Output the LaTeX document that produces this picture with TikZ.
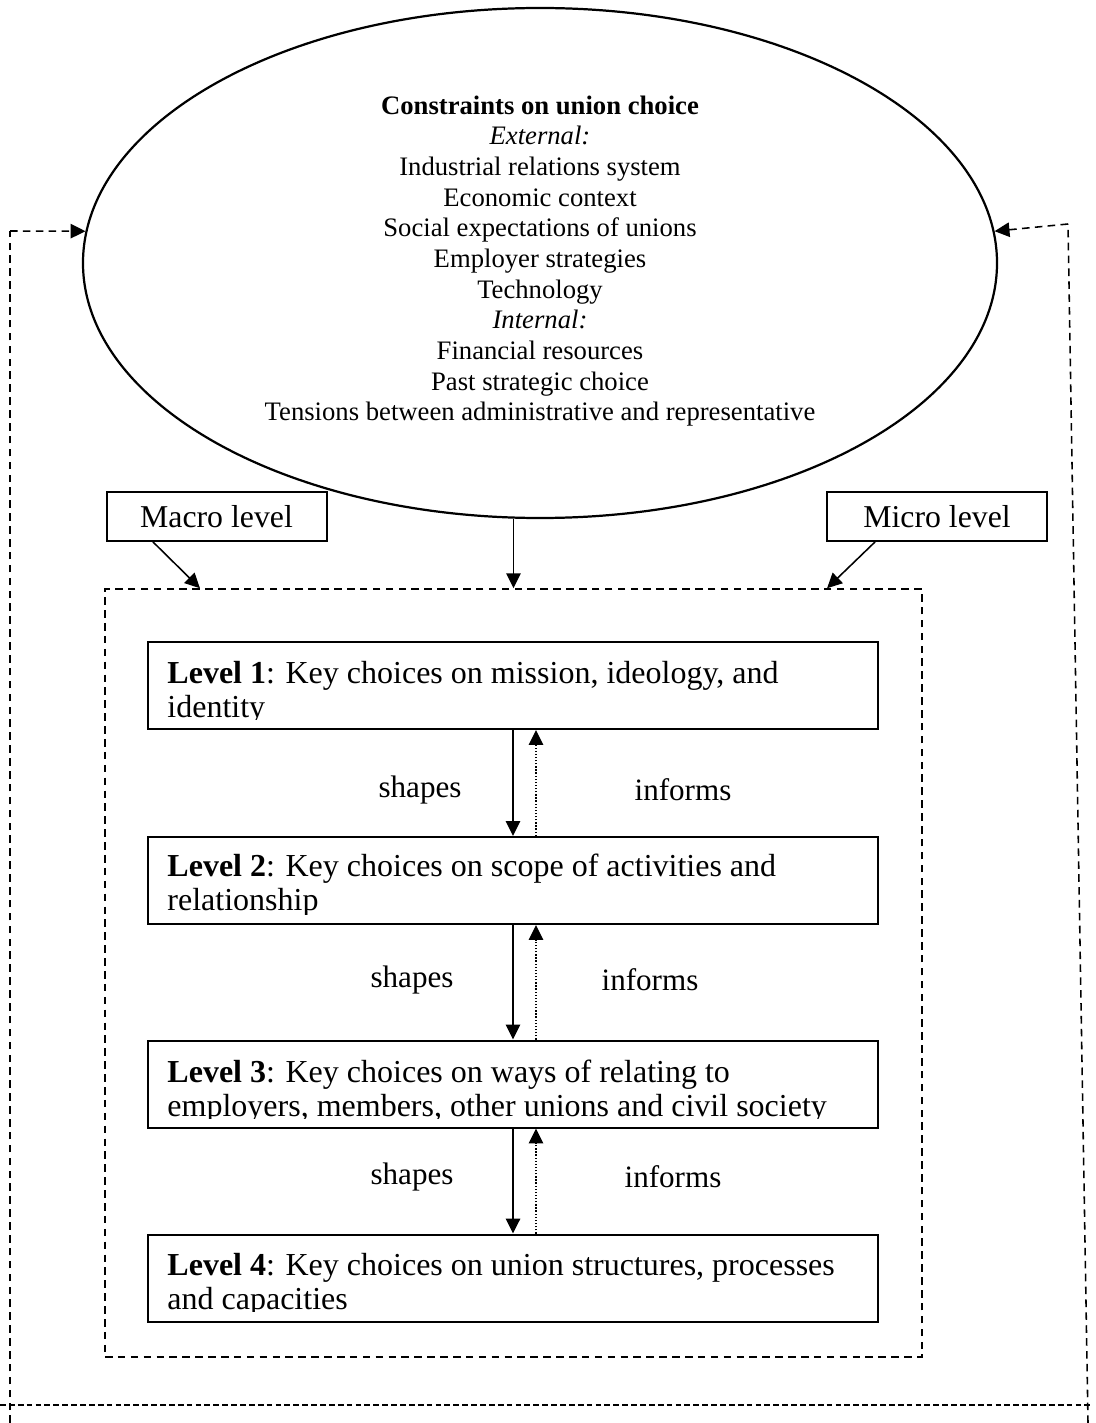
\documentclass[tikz,border=0pt]{standalone}
\usepackage{fontspec}
\setmainfont{Liberation Serif}
\usetikzlibrary{arrows.meta,shapes.geometric}
\begin{document}
\begin{tikzpicture}[x=0.45pt,y=-0.45pt,
  tip/.style={-{Triangle[length=6.7pt,width=6.5pt]}},
  solidarrow/.style={tip,line width=0.7pt},
  dotarrow/.style={tip,line width=0.6pt,dash pattern=on 0.6pt off 0.8pt},
  outerdash/.style={line width=0.7pt,dash pattern=on 3.4pt off 2.4pt},
  bottomdash/.style={line width=0.8pt,dash pattern=on 2.6pt off 1.4pt},
  framedash/.style={draw,line width=0.7pt,dash pattern=on 3.4pt off 2.4pt},
  levelbox/.style={draw,line width=0.9pt,rectangle,inner sep=0pt,minimum width=328.5pt,minimum height=39.15pt},
  labelbox/.style={draw,fill=white,line width=0.9pt,rectangle,inner sep=0pt,minimum width=99pt,minimum height=22pt},
  boxtext/.style={anchor=base west,inner sep=0pt,font=\fontsize{14.4}{15.3}\selectfont},
  arrowlabel/.style={inner sep=0pt,font=\fontsize{14}{16.7}\selectfont},
  ]
\useasboundingbox (0,0) rectangle (1095,1423);

% ellipse of constraints
\node[draw,ellipse,line width=1pt,inner sep=0pt,minimum width=411.3pt,minimum height=229.5pt] (constraints) at (540,263) {};
\node[align=center,inner sep=0pt,font=\fontsize{12}{13.8}\selectfont] (constraintsText) at (540,261)
 {\textbf{Constraints on union choice}\\
  \textit{External:}\\
  Industrial relations system\\
  Economic context\\
  Social expectations of unions\\
  Employer strategies\\
  Technology\\
  \textit{Internal:}\\
  Financial resources\\
  Past strategic choice\\
  Tensions between administrative and representative};

% macro / micro boxes
\node[labelbox] (macro) at (217,516.5) {};
\node[labelbox] (micro) at (937,516.5) {};
\node[inner sep=0pt,font=\fontsize{14.3}{17}\selectfont] (macroText) at (216.5,517) {Macro level};
\node[inner sep=0pt,font=\fontsize{14.3}{17}\selectfont] (microText) at (937,517) {Micro level};

% dashed frame
\node[framedash,inner sep=0pt,minimum width=367.65pt,minimum height=345.6pt] (frame) at (513.5,973) {};

% level boxes
\node[levelbox] (L1) at (513,685.5) {};
\node[levelbox] (L2) at (513,880.5) {};
\node[levelbox] (L3) at (513,1084) {};
\node[levelbox] (L4) at (513,1278) {};

\begin{scope}
\clip (148,642) rectangle (878,719);
\node[boxtext] (L1a) at (167,683) {\textbf{Level 1}: Key choices on mission, ideology, and};
\node[boxtext] (L1b) at (167,717) {identity};
\end{scope}
\begin{scope}
\clip (148,836) rectangle (878,914);
\node[boxtext] (L2a) at (167,876) {\textbf{Level 2}: Key choices on scope of activities and};
\node[boxtext] (L2b) at (167,910) {relationship};
\end{scope}
\begin{scope}
\clip (148,1041) rectangle (878,1118);
\node[boxtext] (L3a) at (167,1082) {\textbf{Level 3}: Key choices on ways of relating to};
\node[boxtext] (L3b) at (167,1116) {employers, members, other unions and civil society};
\end{scope}
\begin{scope}
\clip (148,1234) rectangle (878,1311);
\node[boxtext] (L4a) at (167,1275) {\textbf{Level 4}: Key choices on union structures, processes};
\node[boxtext] (L4b) at (167,1309) {and capacities};
\end{scope}

% shapes / informs arrows
\draw[solidarrow] (L1.south) -- (L2.north);
\draw[dotarrow] ([xshift=10.35pt]L2.north) -- ([xshift=10.35pt]L1.south);
\draw[solidarrow] (L2.south) -- (L3.north);
\draw[dotarrow] ([xshift=10.35pt]L3.north) -- ([xshift=10.35pt]L2.south);
\draw[solidarrow] (L3.south) -- (L4.north);
\draw[dotarrow] ([xshift=10.35pt]L4.north) -- ([xshift=10.35pt]L3.south);

\node[arrowlabel] (s1) at (420,790) {shapes};
\node[arrowlabel] (i1) at (683,790) {informs};
\node[arrowlabel] (s2) at (412,980) {shapes};
\node[arrowlabel] (i2) at (650,980) {informs};
\node[arrowlabel] (s3) at (412,1177) {shapes};
\node[arrowlabel] (i3) at (673,1177) {informs};

% arrows into the frame
\draw[solidarrow] (frame.north |- constraints.south) -- (frame.north);
\draw[solidarrow] ([xshift=-28.8pt]macro.south) -- ([xshift=-141.1pt]frame.north);
\draw[solidarrow] ([xshift=-27.9pt]micro.south) -- ([xshift=141.1pt]frame.north);

% outer dashed feedback loop
\coordinate (lefttop) at (10,231);
\coordinate (leftbot) at (10,1423);
\coordinate (righttop) at (1068,224);
\coordinate (rightbot) at (1088,1423);
\coordinate (bl) at (0,1405);
\coordinate (br) at (1090,1405);
\draw[outerdash] (leftbot) -- (lefttop);
\draw[outerdash,tip] (lefttop) -- (constraints.176);
\draw[outerdash] (rightbot) -- (righttop);
\draw[outerdash,tip] (righttop) -- (constraints.4.3);
\draw[bottomdash] (bl) -- (br);
\end{tikzpicture}
\end{document}
